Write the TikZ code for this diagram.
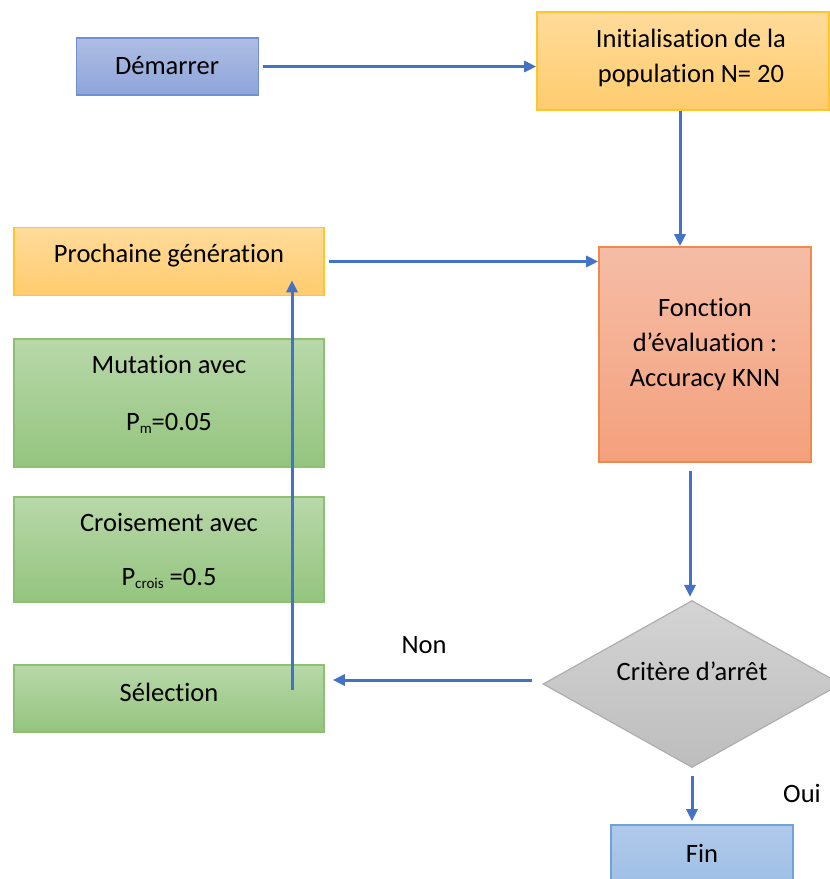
\documentclass[tikz,border=0pt]{standalone}
\usepackage{fontspec}
\setmainfont[Ligatures=CommonOff]{Carlito}
\usetikzlibrary{shapes.geometric,arrows.meta,calc}

\definecolor{arrowblue}{HTML}{4472C4}
\definecolor{startTop}{HTML}{AEBDE3}
\definecolor{startBot}{HTML}{8EA5DA}
\definecolor{startLine}{HTML}{6F8FD2}
\definecolor{yelTop}{HTML}{FFDB9A}
\definecolor{yelBot}{HTML}{FFCC6E}
\definecolor{yelLine}{HTML}{FFC42E}
\definecolor{orTop}{HTML}{F5BDA6}
\definecolor{orBot}{HTML}{F4A07C}
\definecolor{orLine}{HTML}{F08A4C}
\definecolor{grTop}{HTML}{B8D8A9}
\definecolor{grBot}{HTML}{94C47E}
\definecolor{grLine}{HTML}{8CC072}
\definecolor{gyTop}{HTML}{D4D4D4}
\definecolor{gyBot}{HTML}{BDBDBD}
\definecolor{gyLine}{HTML}{AEAEAE}
\definecolor{finTop}{HTML}{AFC9EA}
\definecolor{finBot}{HTML}{9ABCE4}
\definecolor{finLine}{HTML}{6FA2D9}

% small lowered subscript
\newcommand{\lowsub}[1]{\raisebox{-0.25ex}{\fontsize{15}{15}\selectfont #1}}

\tikzset{
  box/.style={rectangle, draw, line width=1.6pt, inner sep=0pt},
  startbox/.style={box, draw=startLine, top color=startTop, bottom color=startBot},
  yelbox/.style={box, draw=yelLine, top color=yelTop, bottom color=yelBot},
  evalbox/.style={box, draw=orLine, top color=orTop, bottom color=orBot},
  greenbox/.style={box, draw=grLine, top color=grTop, bottom color=grBot},
  finbox/.style={box, draw=finLine, top color=finTop, bottom color=finBot},
  decision/.style={diamond, draw=gyLine, line width=1.2pt, inner sep=0pt,
    top color=gyTop, bottom color=gyBot},
  txt/.style={font=\fontsize{26.5}{35}\selectfont, text=black, align=center, inner sep=0pt},
  arr/.style={draw=arrowblue, line width=3pt,
    -{Triangle[length=12pt,width=11pt]}},
}

\begin{document}
\begin{tikzpicture}[x=1pt,y=-1pt]
  \useasboundingbox (0,0) rectangle (830,879);

  % boxes
  \node[startbox, minimum width=182pt, minimum height=57pt] (dem) at (167.5,66.5) {};
  \node[yelbox, minimum width=292pt, minimum height=98pt] (init) at (683,61) {};
  \node[yelbox, minimum width=310pt, minimum height=68pt] (proch) at (169,261.5) {};
  \node[evalbox, minimum width=212pt, minimum height=215pt] (fon) at (705,354.5) {};
  \node[greenbox, minimum width=310pt, minimum height=128pt] (mut) at (169,403) {};
  \node[greenbox, minimum width=310pt, minimum height=105pt] (crois) at (169,549.5) {};
  \node[greenbox, minimum width=310pt, minimum height=67pt] (sel) at (169,698.5) {};
  \node[decision, minimum width=298pt, minimum height=167pt] (dia) at (692,684) {};
  \node[finbox, minimum width=182pt, minimum height=84pt] (fin) at (702,867) {};

  % texts
  \node[txt] (demT) at (167,66) {Démarrer};
  \node[txt] (initT) at (691,58) {Initialisation de la\\population N= 20};
  \node[txt] (prochT) at (169,256) {Prochaine génération};
  \node[txt] (fonT) at (705,345) {Fonction\\d’évaluation :\\Accuracy KNN};
  \node[txt] (mutT) at (169,394.5) {Mutation avec\\[22pt]P\lowsub{m}=0.05};
  \node[txt] (croisT) at (169,551) {Croisement avec\\[19pt]P\lowsub{crois} =0.5};
  \node[txt] (selT) at (169,692) {Sélection};
  \node[txt] (diaT) at (692,671) {Critère d’arrêt};
  \node[txt] (finT) at (702,853) {Fin};
  \node[txt] (non) at (424,645) {Non};
  \node[txt] (oui) at (802,793) {Oui};

  % connectors
  \draw[arr, shorten <=4pt] (dem.east) -- (dem.east -| init.west);
  \draw[arr] ([xshift=-3pt]init.south) -- ([xshift=-3pt]init.south |- fon.north);
  \draw[arr, shorten <=4pt] (proch.east) -- (proch.east -| fon.west);
  \draw[arr, shorten <=8pt, shorten >=3pt] ([xshift=-15pt]fon.south) -- ([xshift=-15pt]fon.south |- dia.north);
  \draw[arr, shorten <=10pt, shorten >=8pt] ([yshift=4pt]dia.west) -- ([yshift=4pt]dia.west -| sel.east);
  \draw[arr, shorten <=8pt, shorten >=3pt] (dia.south) -- (dia.south |- fin.north);
  \coordinate (loopStart) at (292,690);
  \draw[arr] (loopStart) -- (loopStart |- proch.south) -- ++(0,-16);
\end{tikzpicture}
\end{document}
